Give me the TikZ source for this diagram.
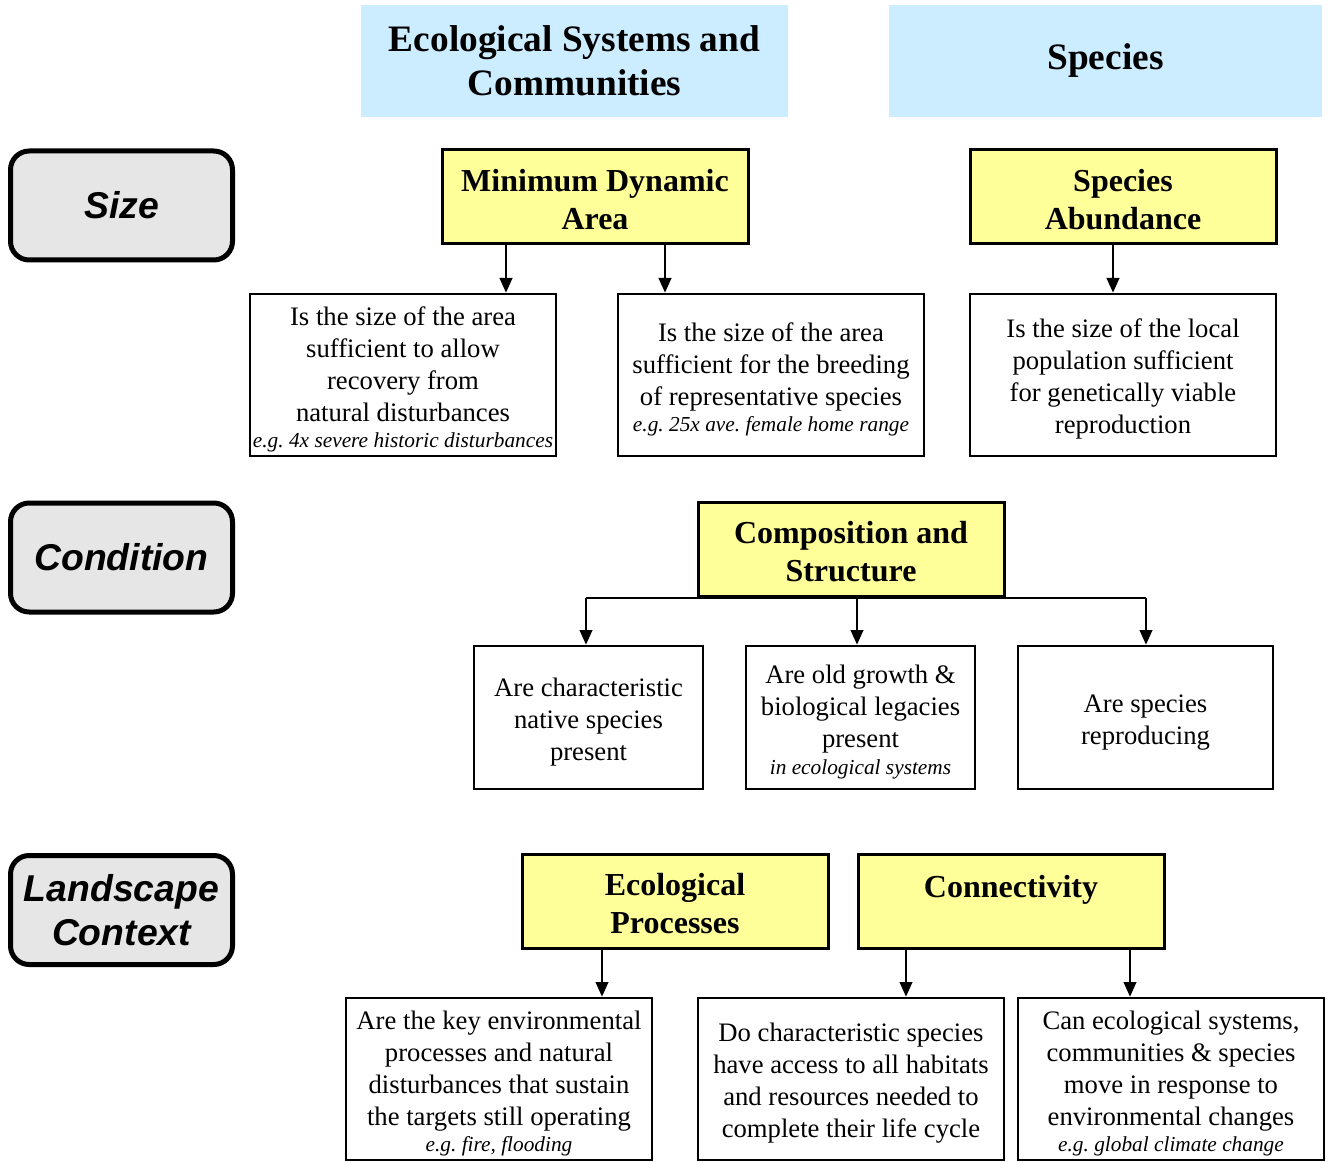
\documentclass[tikz,border=0pt]{standalone}
\usepackage{fontspec}
\setmainfont{Liberation Serif}
\newfontfamily\arialfont{Liberation Sans}
\usetikzlibrary{arrows.meta}
\definecolor{hdrblue}{HTML}{CCECFF}
\definecolor{ylw}{HTML}{FFFF99}
\definecolor{lgrey}{HTML}{E6E6E6}
\frenchspacing
\newcommand{\egline}[1]{{\fontsize{16}{20}\selectfont\itshape\frenchspacing #1}}
\newcommand{\wstrut}{\rule{0pt}{20.5pt}}
\newcommand{\ystrut}{\rule{0pt}{21pt}}
\begin{document}
\begin{tikzpicture}[x=0.75pt,y=-0.75pt,
  hdr/.style={fill=hdrblue, draw=none, inner sep=0pt, align=center, minimum height=84pt, font=\fontsize{28}{33}\selectfont\bfseries},
  lbl/.style={fill=lgrey, draw=black, line width=3.75pt, rounded corners=14pt, inner sep=0pt, align=center, minimum width=166.5pt, minimum height=81.75pt, font=\arialfont\fontsize{28}{33}\selectfont\bfseries\itshape},
  ybox/.style={fill=ylw, draw=black, line width=2.25pt, inner sep=0pt, align=center, minimum width=229.5pt, minimum height=70.5pt, font=\fontsize{24}{28.5}\selectfont\bfseries},
  wbox/.style={fill=white, draw=black, line width=2pt, inner sep=0pt, align=center, minimum width=229.5pt, minimum height=121.5pt, font=\fontsize{20}{24}\selectfont},
  cbox/.style={wbox, minimum width=171.75pt, minimum height=107.25pt},
  arr/.style={draw=black, line width=1.5pt, -{Triangle[length=11pt,width=9.5pt]}},
  link/.style={draw=black, line width=1.5pt},
]
\useasboundingbox (0,0) rectangle (1331,1162);
\fill[white] (0,0) rectangle (1331,1162);

% column headers
\node[hdr, minimum width=320.25pt] (hEco) at (574.5,61) {Ecological Systems and\\Communities};
\node[hdr, minimum width=324.75pt] (hSp) at (1105.5,61) {Species};

% row labels
\node[lbl] (lSize) at (121.5,205.5) {Size};
\node[lbl] (lCond) at (121.5,557.5) {Condition};
\node[lbl] (lLand) at (121.5,910) {Landscape\\Context};

% yellow attribute boxes
\node[ybox] (mda) at (595,197) {\ystrut Minimum Dynamic\\Area};
\node[ybox] (sab) at (1123,197) {\ystrut Species\\Abundance};
\node[ybox] (cst) at (851,549) {\ystrut Composition and\\Structure};
\node[ybox] (epr) at (675,901) {\ystrut Ecological\\Processes};
\node[ybox] (con) at (1011,901) {\rule{0pt}{23pt}Connectivity\\\phantom{Processes}};

% question boxes
\node[wbox] (s1) at (403,375) {\wstrut Is the size of the area\\sufficient to allow\\recovery from\\natural disturbances\\[-4pt]\egline{e.g. 4x severe historic disturbances}};
\node[wbox] (s2) at (771,375) {\wstrut Is the size of the area\\sufficient for the breeding\\of representative species\\[-4pt]\egline{e.g. 25x ave. female home range}};
\node[wbox] (s3) at (1123,375) {\wstrut Is the size of the local\\population sufficient\\for genetically viable\\reproduction};

\node[cbox] (c1) at (588.5,717.5) {\wstrut Are characteristic\\native species\\present};
\node[cbox] (c2) at (860.5,717.5) {\wstrut Are old growth \&\\biological legacies\\present\\[-4pt]\egline{in ecological systems}};
\node[cbox, minimum width=191.25pt] (c3) at (1145.5,717.5) {\wstrut Are species\\reproducing};

\node[wbox] (l1) at (499,1079) {\wstrut Are the key environmental\\processes and natural\\disturbances that sustain\\the targets still operating\\[-4pt]\egline{e.g. fire, flooding}};
\node[wbox] (l2) at (851,1079) {\wstrut Do characteristic species\\have access to all habitats\\and resources needed to\\complete their life cycle};
\node[wbox] (l3) at (1171,1079) {\wstrut Can ecological systems,\\communities \& species\\move in response to\\environmental changes\\[-4pt]\egline{e.g. global climate change}};

% arrow x positions
\coordinate (x1) at (506,0);
\coordinate (x2) at (665,0);
\coordinate (x3) at (1113,0);
\coordinate (x4) at (586,0);
\coordinate (x5) at (857,0);
\coordinate (x6) at (1146,0);
\coordinate (x7) at (602,0);
\coordinate (x8) at (906,0);
\coordinate (x9) at (1130,0);

% connectors
\draw[arr] (mda.south -| x1) -- (s1.north -| x1);
\draw[arr] (mda.south -| x2) -- (s2.north -| x2);
\draw[arr] (sab.south -| x3) -- (s3.north -| x3);

\draw[link] (cst.south -| x4) -- (cst.south -| x6);
\draw[arr] (cst.south -| x4) -- (c1.north -| x4);
\draw[arr] (cst.south -| x5) -- (c2.north -| x5);
\draw[arr] (cst.south -| x6) -- (c3.north -| x6);

\draw[arr] (epr.south -| x7) -- (l1.north -| x7);
\draw[arr] (con.south -| x8) -- (l2.north -| x8);
\draw[arr] (con.south -| x9) -- (l3.north -| x9);
\end{tikzpicture}
\end{document}
